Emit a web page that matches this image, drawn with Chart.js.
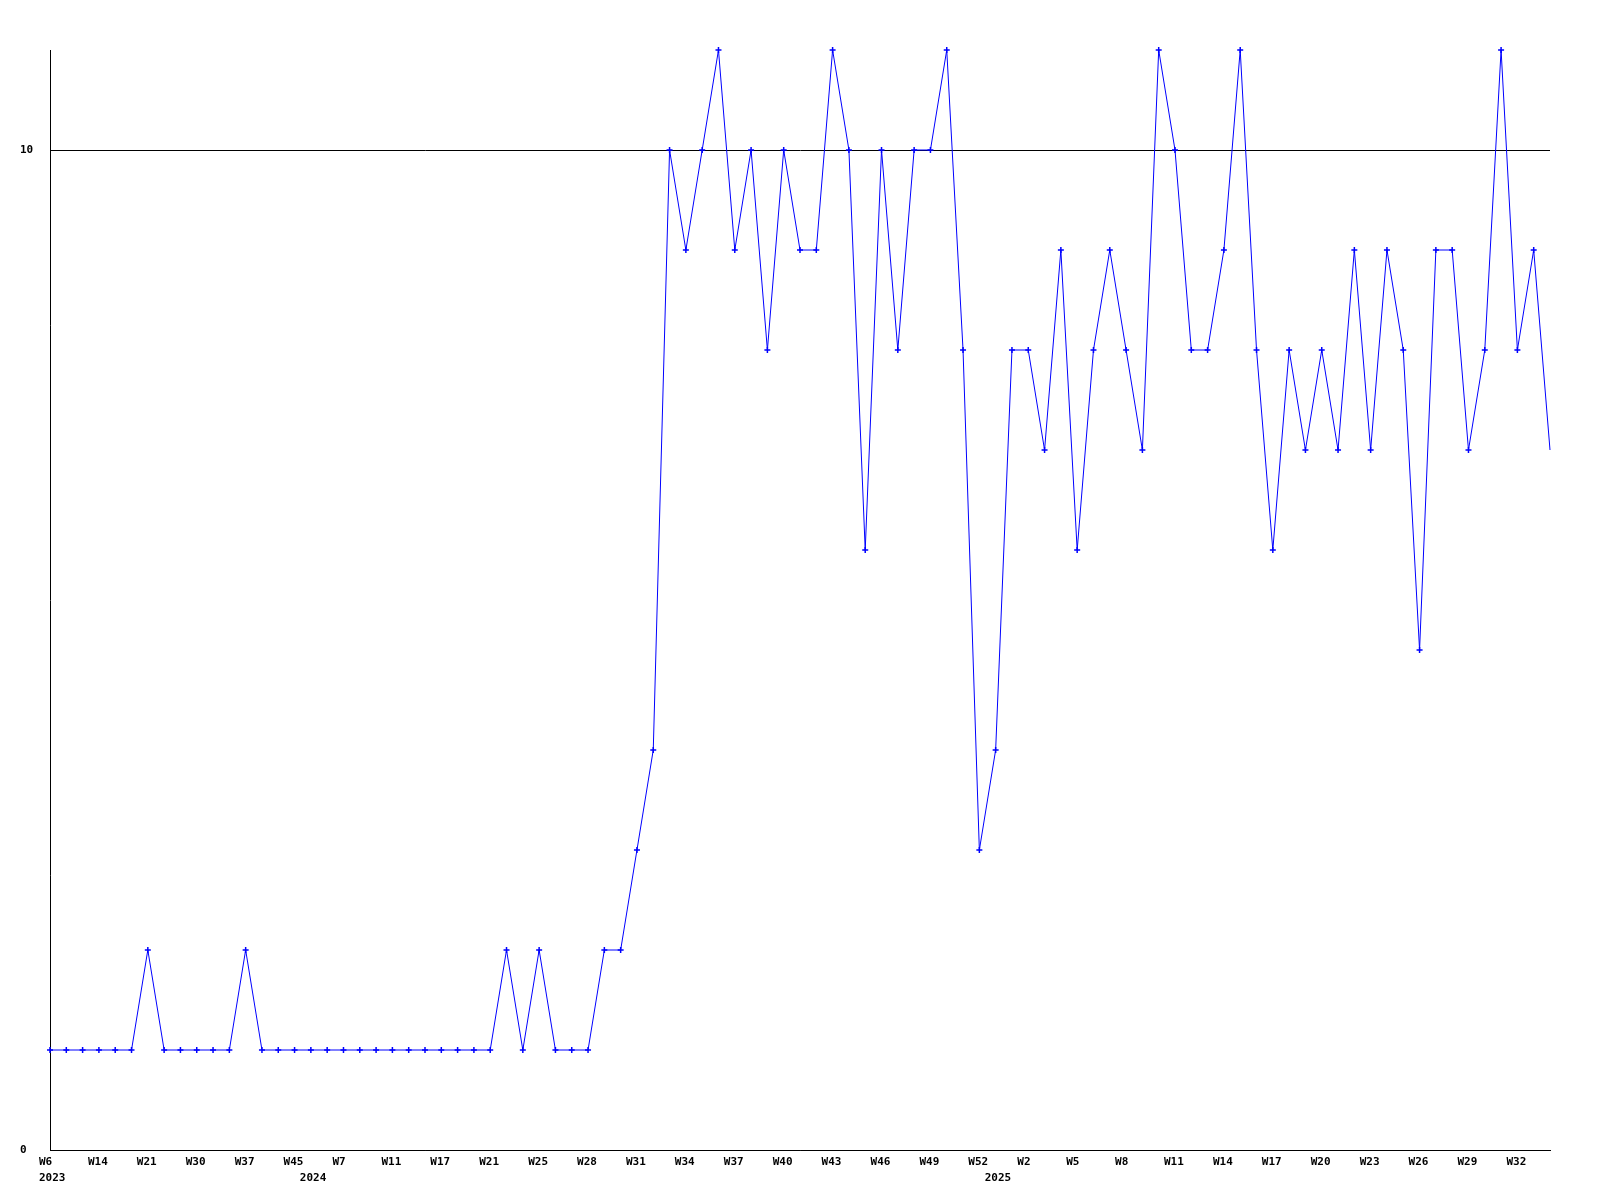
<!DOCTYPE html>
<html>
<head>
<meta charset="utf-8">
<title>Weekly count</title>
<script src="https://cdn.jsdelivr.net/npm/chart.js@4/dist/chart.umd.min.js"></script>
<style>
    html, body { margin: 0; padding: 0; background: #fff; }
    #wrap { width: 1600px; height: 1200px; }
</style>
</head>
<body>
<div id="wrap"><canvas id="weeklyChart"></canvas></div>
<script>
// week of each point (only every third one is printed on the axis)
const weeks = [
    'W6', 'W8', 'W11', 'W14', 'W16', 'W19', 'W21', 'W24', 'W27', 'W30',
    'W32', 'W35', 'W37', 'W40', 'W42', 'W45', 'W2', 'W5', 'W7', 'W8',
    'W10', 'W11', 'W13', 'W15', 'W17', 'W18', 'W20', 'W21', 'W22', 'W24',
    'W25', 'W26', 'W27', 'W28', 'W29', 'W30', 'W31', 'W32', 'W33', 'W34',
    'W35', 'W36', 'W37', 'W38', 'W39', 'W40', 'W41', 'W42', 'W43', 'W44',
    'W45', 'W46', 'W47', 'W48', 'W49', 'W50', 'W51', 'W52', 'W0', 'W1',
    'W2', 'W3', 'W4', 'W5', 'W6', 'W7', 'W8', 'W9', 'W10', 'W11',
    'W12', 'W13', 'W14', 'W15', 'W16', 'W17', 'W18', 'W19', 'W20', 'W21',
    'W22', 'W23', 'W24', 'W25', 'W26', 'W27', 'W28', 'W29', 'W30', 'W31',
    'W32', 'W33', 'W34'
];
const years = [
    2023, 2023, 2023, 2023, 2023, 2023, 2023, 2023, 2023, 2023,
    2023, 2023, 2023, 2023, 2023, 2023, 2024, 2024, 2024, 2024,
    2024, 2024, 2024, 2024, 2024, 2024, 2024, 2024, 2024, 2024,
    2024, 2024, 2024, 2024, 2024, 2024, 2024, 2024, 2024, 2024,
    2024, 2024, 2024, 2024, 2024, 2024, 2024, 2024, 2024, 2024,
    2024, 2024, 2024, 2024, 2024, 2024, 2024, 2024, 2025, 2025,
    2025, 2025, 2025, 2025, 2025, 2025, 2025, 2025, 2025, 2025,
    2025, 2025, 2025, 2025, 2025, 2025, 2025, 2025, 2025, 2025,
    2025, 2025, 2025, 2025, 2025, 2025, 2025, 2025, 2025, 2025,
    2025, 2025, 2025
];
const counts = [
    1, 1, 1, 1, 1, 1, 2, 1, 1, 1,
    1, 1, 2, 1, 1, 1, 1, 1, 1, 1,
    1, 1, 1, 1, 1, 1, 1, 1, 2, 1,
    2, 1, 1, 1, 2, 2, 3, 4, 10, 9,
    10, 11, 9, 10, 8, 10, 9, 9, 11, 10,
    6, 10, 8, 10, 10, 11, 8, 3, 4, 8,
    8, 7, 9, 6, 8, 9, 8, 7, 11, 10,
    8, 8, 9, 11, 8, 6, 8, 7, 8, 7,
    9, 7, 9, 8, 5, 9, 9, 7, 8, 11,
    8, 9, 7
];
const yTicks = [0, 10];
const yMax = 11;
const labelEvery = 3;

(function() {
    const ctx = document.getElementById('weeklyChart');
    const labelFont = 'bold 11px "DejaVu Sans Mono", "Liberation Mono", monospace';

    // gd-style labels: left aligned a little before the tick, year under the first week of a year
    const axisLabels = {
        id: 'axisLabels',
        afterDraw(chart) {
            const c = chart.ctx;
            const x = chart.scales.x;
            const y = chart.scales.y;
            c.save();
            c.fillStyle = '#000';
            c.font = labelFont;
            c.textAlign = 'left';

            c.textBaseline = 'middle';
            yTicks.forEach(v => c.fillText(String(v), 20, y.getPixelForValue(v)));

            c.textBaseline = 'alphabetic';
            weeks.forEach((w, i) => {
                const px = x.getPixelForValue(i) - 11;
                if (i % labelEvery === 0) {
                    c.fillText(w, px, y.bottom + 15);
                }
                if (i === 0 || years[i] !== years[i - 1]) {
                    c.fillText(String(years[i]), px, y.bottom + 31);
                }
            });
            c.restore();
        }
    };

    new Chart(ctx.getContext('2d'), {
        type: 'line',
        data: {
            labels: weeks,
            datasets: [{
                data: counts,
                borderColor: '#0000ff',
                backgroundColor: '#0000ff',
                borderWidth: 1,
                tension: 0,
                fill: false,
                clip: false,
                pointStyle: 'cross',
                pointRadius: c => (c.dataIndex === counts.length - 1 ? 0 : 3),
                pointBorderWidth: 1.5,
                pointBorderColor: '#0000ff'
            }]
        },
        options: {
            responsive: true,
            maintainAspectRatio: false,
            animation: false,
            layout: { padding: { left: 50, right: 50, top: 50, bottom: 50 } },
            plugins: {
                legend: { display: false },
                tooltip: { enabled: false }
            },
            scales: {
                x: {
                    type: 'category',
                    offset: false,
                    ticks: { display: false },
                    grid: { display: false, drawTicks: false },
                    border: { display: true, color: '#000', width: 1 }
                },
                y: {
                    min: 0,
                    max: yMax,
                    afterBuildTicks: scale => {
                        scale.ticks = yTicks.map(v => ({ value: v }));
                    },
                    ticks: { display: false },
                    grid: { color: '#000', lineWidth: 1, drawTicks: false },
                    border: { display: true, color: '#000', width: 1 }
                }
            }
        },
        plugins: [axisLabels]
    });
})();
</script>
</body>
</html>
